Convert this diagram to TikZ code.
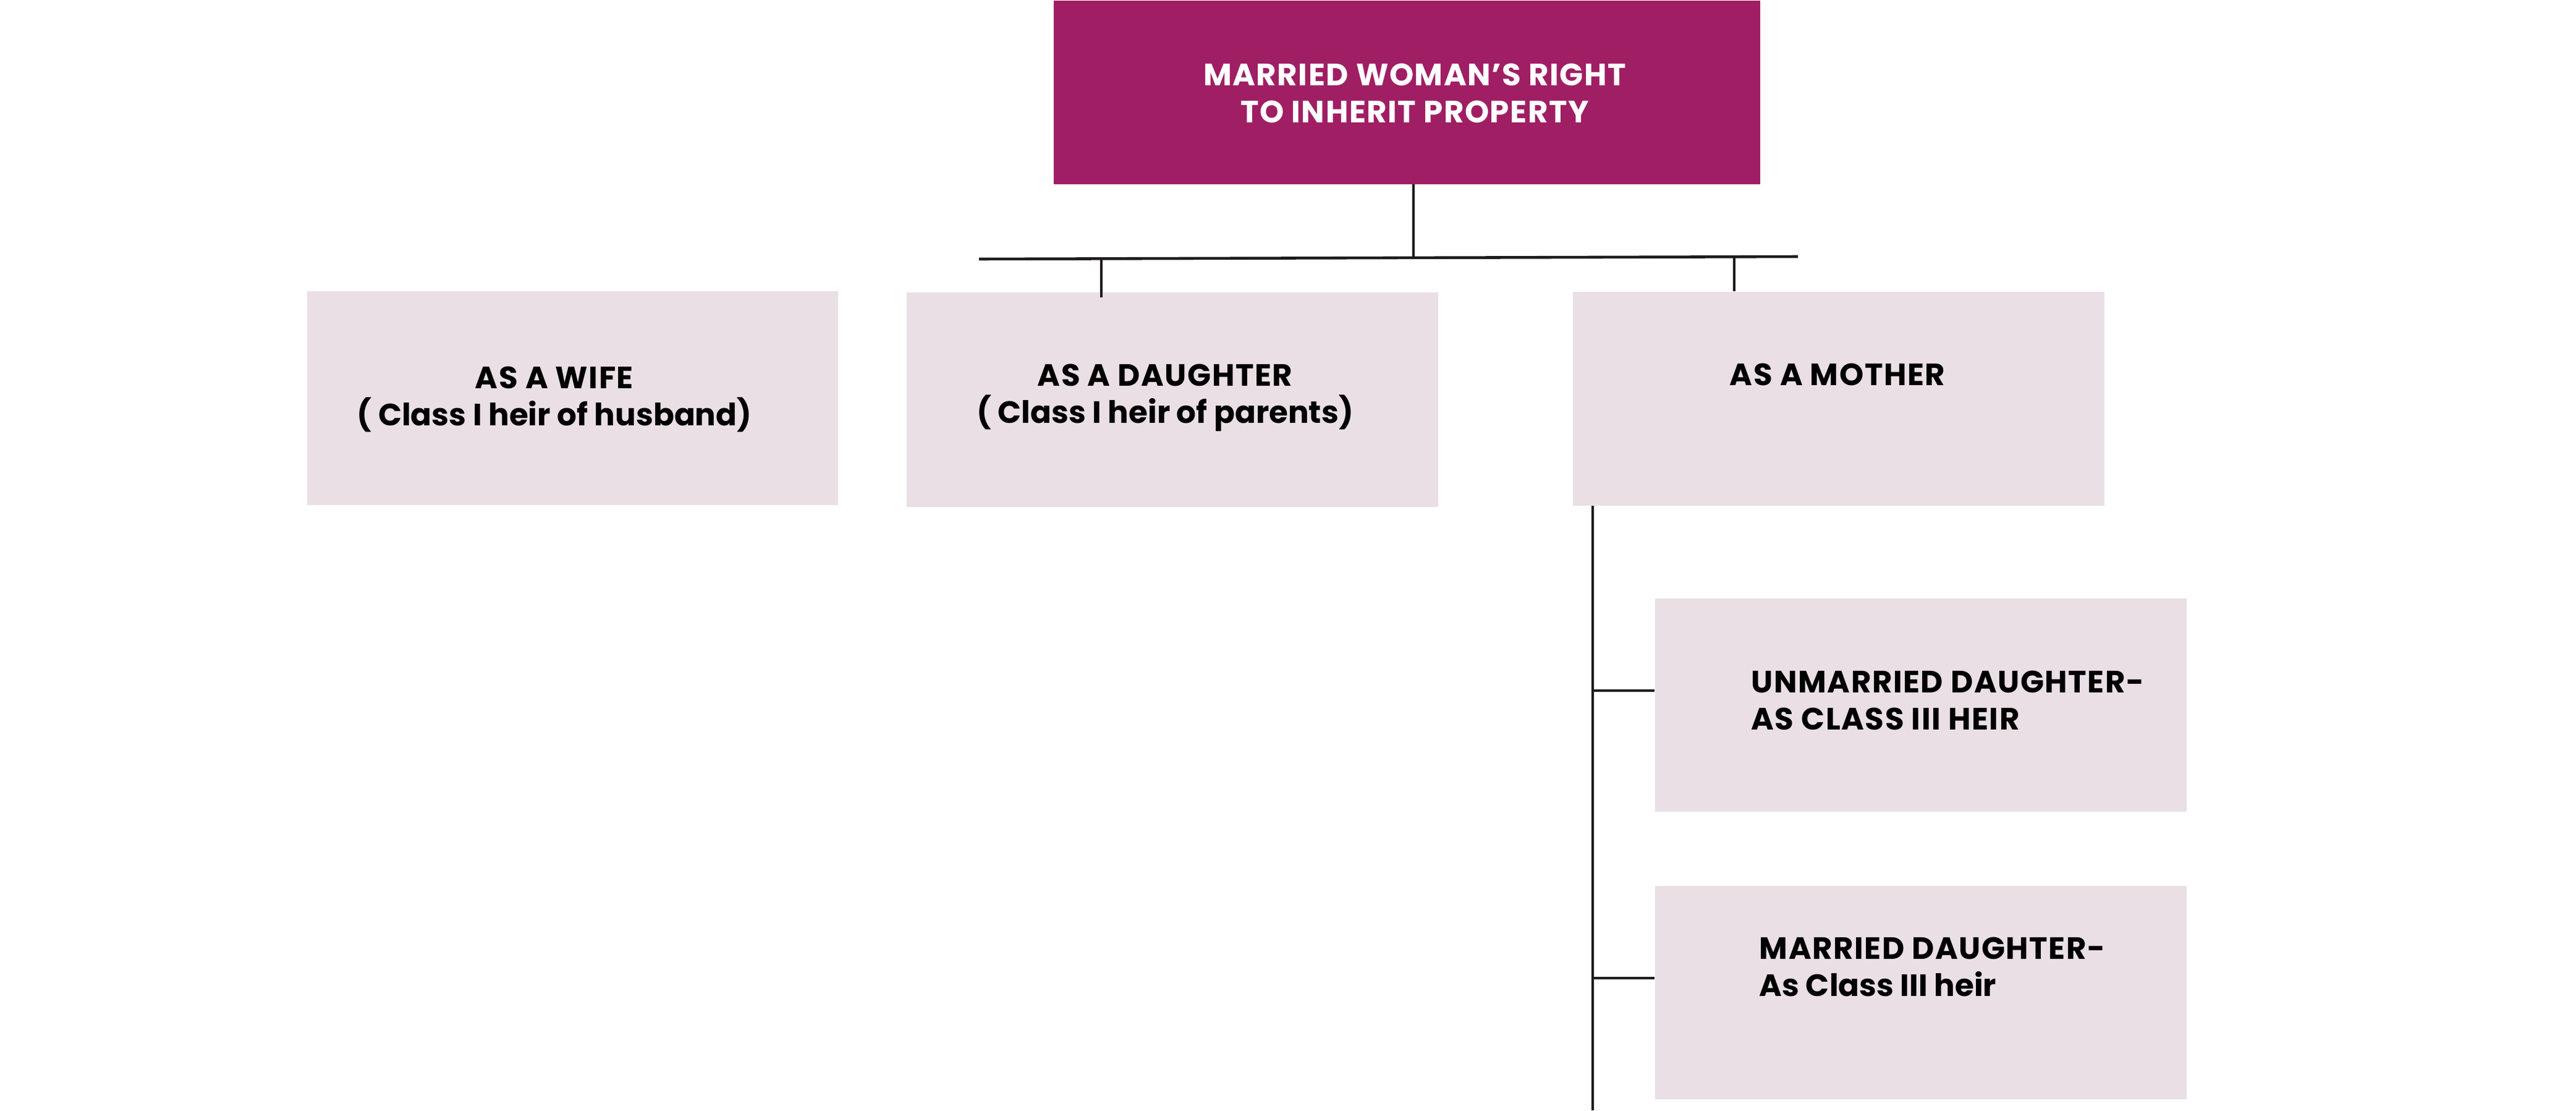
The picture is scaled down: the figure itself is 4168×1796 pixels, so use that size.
\documentclass[tikz,border=0pt]{standalone}
\usepackage{fontspec}
\setmainfont{Poppins}[LetterSpace=3]
\newcommand{\tightls}{\addfontfeature{LetterSpace=0}}
\definecolor{topmag}{RGB}{160,30,100}
\definecolor{boxpink}{RGB}{233,223,229}
\definecolor{linec}{RGB}{30,27,28}
\begin{document}
\begin{tikzpicture}[x=0.01cm,y=-0.01cm,
  topbox/.style={fill=topmag,draw=none,inner sep=0,minimum width=1143*0.01cm,minimum height=297*0.01cm,anchor=north west},
  pinkbox/.style={fill=boxpink,draw=none,inner sep=0,anchor=north west,minimum width=860*0.01cm,minimum height=346*0.01cm},
  lbl/.style={inner sep=0,font=\fontsize{14.2}{17.2}\selectfont\bfseries,text=black},
  bar/.style={draw=linec,line width=1.3pt},
  tick/.style={draw=linec,line width=1pt}]
\useasboundingbox (0,0) rectangle (4168,1796);
% boxes
\node[topbox] (top) at (1704,0) {};
\node[pinkbox,minimum width=859*0.01cm] (wife) at (496,470) {};
\node[pinkbox,minimum height=347*0.01cm] (daughter) at (1466,472) {};
\node[pinkbox] (mother) at (2544,471) {};
\node[pinkbox,minimum height=345*0.01cm] (unmarried) at (2677,967) {};
\node[pinkbox,minimum height=345*0.01cm] (married) at (2677,1432) {};
% labels
\node[lbl,text=white,align=center,anchor=north] (toplbl) at (2289,102) {MARRIED WOMAN’S RIGHT\\TO INHERIT PROPERTY};
\node[lbl,align=center,anchor=north] (wifelbl) at (897,592) {AS A WIFE\\{\tightls( Class I heir of husband)}};
\node[lbl,align=center,anchor=north] (daughterlbl) at (1885,588) {AS A DAUGHTER\\{\tightls( Class I heir of parents)}};
\node[lbl,align=center,anchor=north] (motherlbl) at (2973,587) {AS A MOTHER};
\node[lbl,align=left,anchor=north west] (unmarriedlbl) at (2833,1084) {UNMARRIED DAUGHTER-\\AS CLASS III HEIR};
\node[lbl,align=left,anchor=north west] (marriedlbl) at (2846,1515) {MARRIED DAUGHTER-\\{\tightls As Class III heir}};
% connector coordinates
\coordinate (barL) at (1584,419);
\coordinate (barR) at (2909,415);
\coordinate (join) at (2287,417);
\coordinate (dtick) at (1782,419);
\coordinate (dtickend) at (1782,481);
\coordinate (mtick) at (2806,415);
\coordinate (spineend) at (2577,1796);
\coordinate (uarm) at (2577,1117);
\coordinate (marm) at (2577,1582);
% connectors
\draw[bar] (barL) -- (barR);
\draw[tick] (top.south -| join) -- (join);
\draw[tick] (dtick) -- (dtickend);
\draw[tick] (mtick) -- (mother.north -| mtick);
\draw[bar] (mother.south -| spineend) -- (spineend);
\draw[tick] (uarm) -- (unmarried.west |- uarm);
\draw[tick] (marm) -- (married.west |- marm);
\end{tikzpicture}
\end{document}
